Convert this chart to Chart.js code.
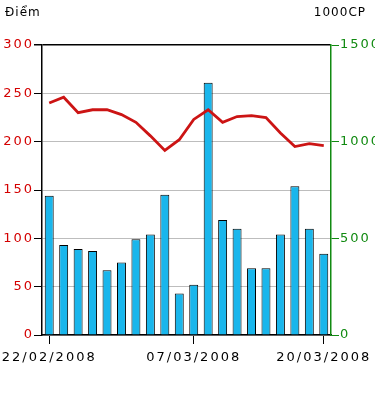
<!DOCTYPE html>
<html>
<head>
<meta charset="utf-8">
<script src="https://cdn.jsdelivr.net/npm/chart.js@4"></script>
<style>
    html, body { margin: 0; padding: 0; background: #fff; }
    #wrap { position: relative; width: 375px; height: 394px; }
    .unit { position: absolute; top: 5px; font: 12px "DejaVu Sans", sans-serif; color: #000; letter-spacing: 1px; }
    #unit-left { left: 5px; }
    #unit-right { right: 9px; }
</style>
</head>
<body>
<div id="wrap">
    <canvas id="chart" width="375" height="394"></canvas>
    <span class="unit" id="unit-left">Điểm</span>
    <span class="unit" id="unit-right">1000CP</span>
</div>
<script>
const dates = [
    "22/02/2008", "25/02/2008", "26/02/2008", "27/02/2008", "28/02/2008",
    "29/02/2008", "03/03/2008", "04/03/2008", "05/03/2008", "06/03/2008",
    "07/03/2008", "10/03/2008", "11/03/2008", "12/03/2008", "13/03/2008",
    "14/03/2008", "17/03/2008", "18/03/2008", "19/03/2008", "20/03/2008"
];
const shown_dates = ["22/02/2008", "07/03/2008", "20/03/2008"];

// index points (left axis)
const index_points = [240, 246, 230, 233, 233, 228, 220, 206, 191, 202,
                      223, 233, 220, 226, 227, 225, 209, 195, 198, 196];

// volume, thousand shares (right axis)
const volume = [720, 465, 445, 435, 335, 375, 495, 520, 725, 215,
                260, 1305, 595, 550, 345, 345, 520, 770, 550, 420];

const left_ticks_max = 300;
const right_ticks_max = 1500;

const tick_font = { family: "DejaVu Sans", size: 13 };

// the reference text is drawn wide, so space the letters a little
const wideText = {
    id: "wideText",
    beforeDraw(chart) { chart.ctx.letterSpacing = "2px"; }
};

const ctx = document.getElementById("chart").getContext("2d");
new Chart(ctx, {
    type: "bar",
    data: {
        labels: dates,
        datasets: [{
            type: "line",
            label: "Điểm",
            data: index_points,
            yAxisID: "y",
            borderColor: "#cc1414",
            borderWidth: 2.8,
            pointRadius: 0,
            tension: 0,
            order: 0
        },
        {
            type: "bar",
            label: "1000CP",
            data: volume,
            yAxisID: "y1",
            backgroundColor: "#19b6ec",
            borderColor: "#000",
            borderWidth: 1,
            barPercentage: 0.62,
            categoryPercentage: 1,
            order: 1
        }]
    },
    options: {
        responsive: false,
        animation: false,
        layout: { padding: { top: 45, left: 0, right: 0, bottom: 0 } },
        plugins: {
            legend: { display: false },
            tooltip: { enabled: false }
        },
        scales: {
            x: {
                offset: true,
                afterFit: (s) => { s.height = 59; },
                border: { color: "#000", width: 1.5 },
                grid: {
                    offset: false,
                    drawOnChartArea: false,
                    tickLength: 9,
                    tickColor: (c) => shown_dates.includes(dates[c.index]) ? "#000" : "rgba(0,0,0,0)"
                },
                ticks: {
                    autoSkip: false,
                    maxRotation: 0,
                    padding: 6,
                    color: "#000",
                    font: tick_font,
                    callback: (v, i) => shown_dates.includes(dates[i]) ? dates[i] : ""
                }
            },
            y: {
                position: "left",
                min: 0,
                max: left_ticks_max,
                afterFit: (s) => { s.width = 42; },
                border: { color: "#000", width: 1.5 },
                grid: {
                    color: (c) => (c.tick.value === left_ticks_max ? "#000" : "#bdbdbd"),
                    lineWidth: (c) => (c.tick.value === left_ticks_max ? 1.5 : 1),
                    tickColor: "#000",
                    tickLength: 8
                },
                ticks: { stepSize: 50, padding: 0, color: "#d40000", font: tick_font }
            },
            y1: {
                position: "right",
                min: 0,
                max: right_ticks_max,
                afterFit: (s) => { s.width = 44; },
                border: { color: "#118a11", width: 1.5 },
                grid: { drawOnChartArea: false, tickColor: "#118a11", tickLength: 8 },
                ticks: {
                    stepSize: 500,
                    padding: 1,
                    color: "#118a11",
                    font: tick_font,
                    callback: (v) => String(v)
                }
            }
        }
    },
    plugins: [wideText]
});
</script>
</body>
</html>
